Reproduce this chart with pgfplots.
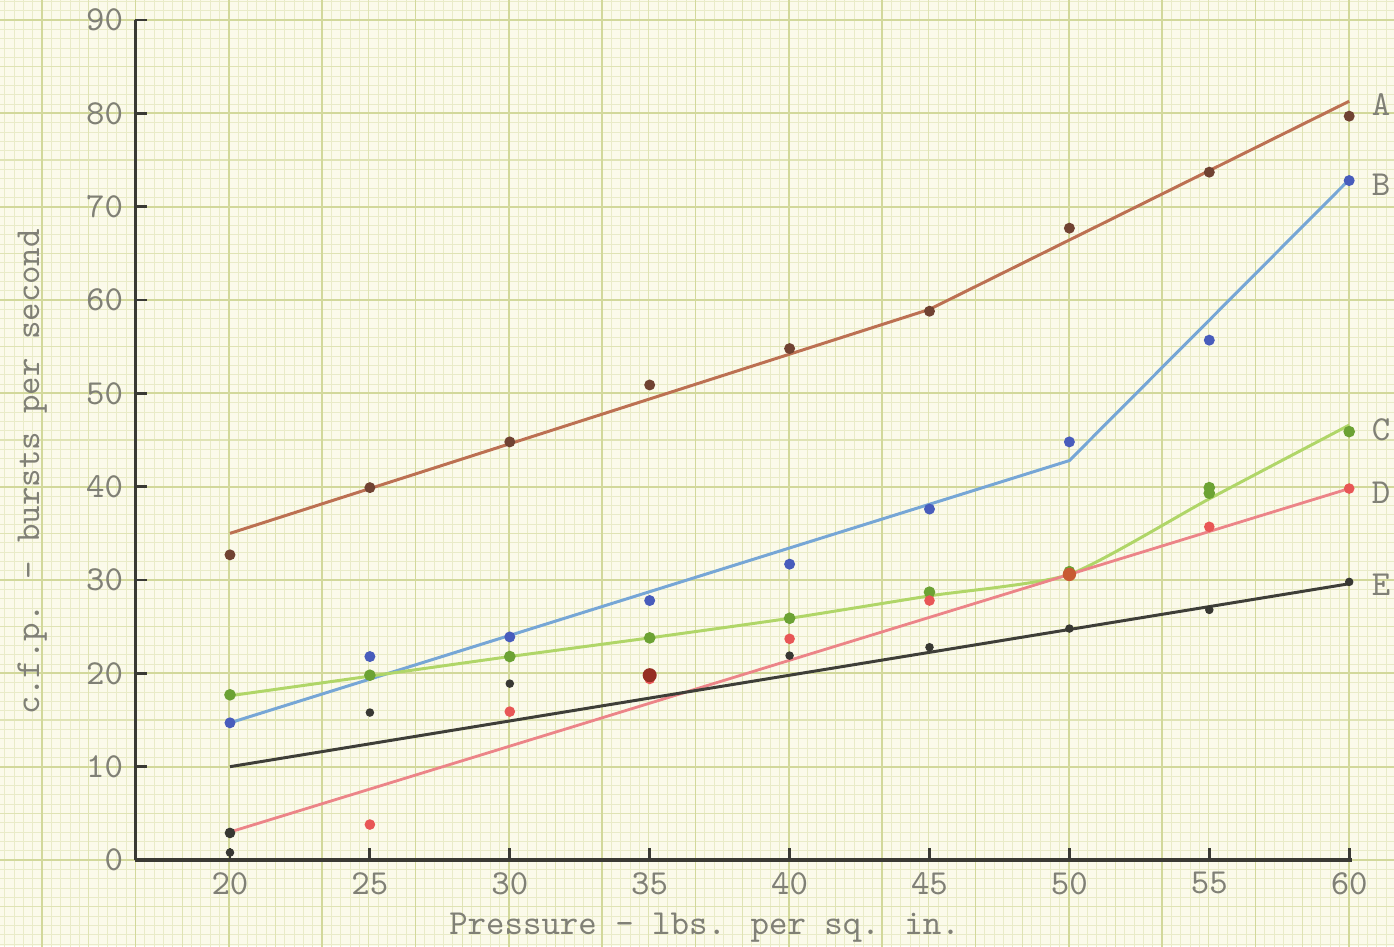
\documentclass[border=0pt]{standalone}
\usepackage{pgfplots}
\pgfplotsset{compat=1.18}

% paper and ink colours
\definecolor{paper}{RGB}{251,250,234}
\definecolor{gridminor}{RGB}{233,235,200}
\definecolor{gridmid}{RGB}{223,227,180}
\definecolor{gridmajor}{RGB}{210,216,155}
\definecolor{axisc}{RGB}{58,58,52}
\definecolor{textc}{RGB}{128,128,118}
\definecolor{Adot}{RGB}{112,66,50}
\definecolor{Aline}{RGB}{188,112,82}
\definecolor{Bdot}{RGB}{72,92,188}
\definecolor{Bline}{RGB}{118,166,214}
\definecolor{Cdot}{RGB}{108,162,52}
\definecolor{Cline}{RGB}{176,214,104}
\definecolor{Ddot}{RGB}{232,86,86}
\definecolor{Dline}{RGB}{236,132,136}
\definecolor{Edot}{RGB}{55,55,50}
\definecolor{Eline}{RGB}{62,62,56}
\definecolor{Dblob}{RGB}{150,45,35}
\definecolor{Mblob}{RGB}{200,90,50}

\newcommand{\tw}{\ttfamily\fontsize{10}{12}\selectfont}

\begin{document}
\begin{tikzpicture}
\useasboundingbox (-13.55mm,-8.6mm) rectangle (125.85mm,86.0mm);
% graph paper
\begin{scope}
\clip (-13.55mm,-8.6mm) rectangle (125.85mm,86.0mm);
\fill[paper] (-13.55mm,-8.6mm) rectangle (125.85mm,86.0mm);
\draw[gridminor, line width=0.25pt, step=0.9333mm] (-14mm,-9.5mm) grid (126mm,87mm);
\draw[gridmid, line width=0.35pt, step=4.6667mm] (-14mm,-9.5mm) grid (126mm,87mm);
\draw[gridmajor, line width=0.5pt, step=9.3333mm] (-14mm,-9.5mm) grid (126mm,87mm);
\end{scope}

\begin{axis}[
  anchor=origin, at={(0,0)},
  scale only axis,
  x=2.798mm, y=0.9333mm,
  xmin=16.623, xmax=60.1, ymin=0, ymax=90,
  axis x line*=bottom, axis y line*=left,
  axis line style={axisc, line width=0.9pt},
  xtick={20,25,...,60}, ytick={0,10,...,90},
  tick align=inside, major tick length=1.2mm,
  tick style={axisc, line width=0.8pt},
  ticklabel style={font=\tw, text=textc},
  /pgf/number format/assume math mode=true,
  clip=false,
  xlabel={Pressure - lbs. per sq. in.},
  ylabel={c.f.p. - bursts per second},
  every axis x label/.style={at={(axis cs:36.96,-7.3)}, anchor=center, font=\tw, text=textc},
  every axis y label/.style={at={(axis cs:12.93,41.57)}, rotate=90, anchor=center, font=\tw, text=textc},
]
% fitted lines
\addplot[Aline, line width=0.85pt] coordinates {(20,35.0) (45,59.0) (60,81.3)};
\addplot[Bline, line width=0.85pt] coordinates {(20,14.7) (50,42.8) (60,72.9)};
\addplot[Cline, line width=0.85pt, smooth, tension=0.35] coordinates {(20,17.6) (25,19.7) (30,21.8) (35,23.8) (40,25.9) (45,28.3) (50,30.6) (55,38.7) (60,46.6)};
\addplot[Dline, line width=0.8pt] coordinates {(20,3.0) (60,39.8)};
\addplot[Eline, line width=0.85pt] coordinates {(20,10.0) (60,29.6)};

% observed points
\addplot[only marks, mark=*, mark size=1.35pt, Adot] coordinates {
  (20,32.7) (25,39.9) (30,44.8) (35,50.9) (40,54.8) (45,58.8) (50,67.7) (55,73.7) (60,79.7)};
\addplot[only marks, mark=*, mark size=1.35pt, Bdot] coordinates {
  (20,14.7) (25,21.8) (30,23.9) (35,27.8) (40,31.7) (45,37.6) (50,44.8) (55,55.7) (60,72.8)};
\addplot[only marks, mark=*, mark size=1.45pt, Cdot] coordinates {
  (20,17.7) (25,19.8) (30,21.8) (35,23.8) (40,25.9) (45,28.7) (50,30.9) (55,39.3) (55,39.9) (60,45.9)};
\addplot[only marks, mark=*, mark size=1.3pt, Ddot] coordinates {
  (25,3.8) (30,15.9) (35,19.4) (40,23.7) (45,27.8) (55,35.7) (60,39.8)};
\addplot[only marks, mark=*, mark size=1.0pt, Edot] coordinates {
  (20,0.8) (25,15.8) (30,18.9) (40,21.9) (45,22.8) (50,24.8) (55,26.8) (60,29.8)};
\addplot[only marks, mark=*, mark size=1.3pt, Edot] coordinates {(20,2.9)};
\addplot[only marks, mark=*, mark size=1.8pt, Dblob] coordinates {(35,19.8)};
\addplot[only marks, mark=*, mark size=1.7pt, Mblob] coordinates {(50,30.6)};

% curve letters
\node[font=\tw, text=textc] at (axis cs:61.14,80.9) {A};
\node[font=\tw, text=textc] at (axis cs:61.14,72.3) {B};
\node[font=\tw, text=textc] at (axis cs:61.14,46.1) {C};
\node[font=\tw, text=textc] at (axis cs:61.14,39.4) {D};
\node[font=\tw, text=textc] at (axis cs:61.14,29.5) {E};
\end{axis}
\end{tikzpicture}
\end{document}
